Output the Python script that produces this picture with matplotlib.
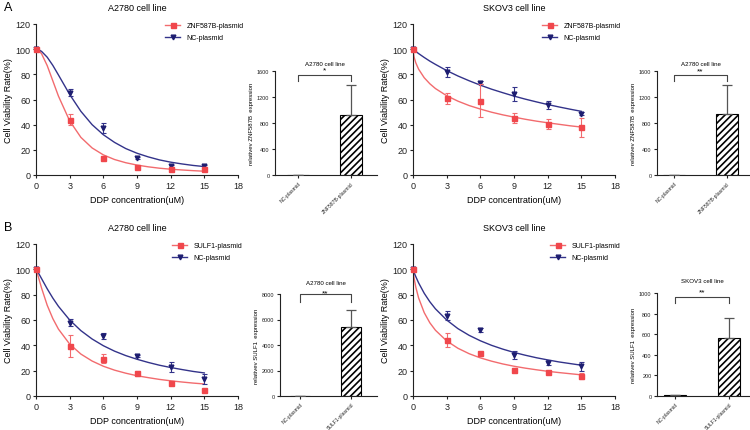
import matplotlib
matplotlib.use("Agg")
import matplotlib.pyplot as plt
from matplotlib.lines import Line2D

plt.rcParams['font.family'] = ['Liberation Sans', 'DejaVu Sans']
plt.rcParams['hatch.linewidth'] = 1.2

# ---------------- data ----------------
dose = [0, 3, 6, 9, 12, 15]
fit_x = [0, 0.1, 0.25, 0.5, 1, 1.5, 2, 3, 4, 5, 6, 7, 8, 9, 10, 11, 12, 13, 14, 15]

# A2780, ZNF587B
a_znf_mean = [100, 44, 13.5, 6.3, 4.8, 5.0]
a_znf_err = [0.5, 4.5, 1, 0.8, 0.8, 1]
a_nc_mean = [100, 65.5, 37.5, 13.2, 7.2, 6.8]
a_nc_err = [0.5, 2.5, 4, 0.8, 0.8, 1]
a_znf_fit = [100, 99.8, 99.0, 96.3, 86.9, 74.8, 62.7, 43.0, 29.9, 21.5, 16.0, 12.3,
             9.75, 7.9, 6.5, 5.4, 4.6, 4.0, 3.45, 3.0]
a_nc_fit = [100, 99.9, 99.5, 98.2, 93.6, 87.1, 79.5, 64.0, 50.6, 40.0, 32.0, 25.9,
            21.0, 17.3, 14.4, 12.0, 10.2, 8.8, 7.6, 6.7]

# SKOV3, ZNF587B
s_znf_mean = [100, 61, 59, 45, 40.5, 38]
s_znf_err = [0.5, 4.4, 13, 4, 4, 7.5]
s_nc_mean = [100, 81.5, 73.5, 64.5, 55.5, 48.7]
s_nc_err = [0.5, 4, 1.5, 5.8, 3.3, 1]
s_znf_fit = [100, 93.6, 89.1, 84.1, 77.3, 72.5, 68.7, 63.0, 58.7, 55.2, 52.4, 49.9,
             47.8, 46.0, 44.3, 42.8, 41.5, 40.3, 39.1, 38.1]
s_nc_fit = [100, 99.3, 98.2, 96.5, 93.4, 90.5, 87.9, 83.0, 78.7, 74.9, 71.4, 68.2,
            65.4, 62.7, 60.3, 58.1, 56.0, 54.1, 52.3, 50.6]

# A2780, SULF1
a_sulf_mean = [100, 39.5, 29.5, 18, 10.6, 5.0]
a_sulf_err = [0.5, 8.6, 3.5, 2, 0.8, 0.8]
a_nc2_mean = [100, 58, 47.5, 31.4, 23, 13.4]
a_nc2_err = [0.5, 2.5, 2.5, 1, 4, 4]
a_sulf_fit = [100, 97.4, 92.8, 85.1, 71.6, 61.1, 52.8, 41.0, 33.1, 27.6, 23.5, 20.4,
              18.0, 16.0, 14.5, 13.1, 12.0, 11.05, 10.2, 9.5]
a_nc2_fit = [100, 98.8, 96.6, 92.6, 84.6, 77.3, 70.8, 60.0, 51.6, 45.0, 39.7, 35.4,
             31.9, 29.0, 26.5, 24.3, 22.5, 20.9, 19.4, 18.2]

# SKOV3, SULF1
s_sulf_mean = [100, 44.3, 34.3, 20.8, 18.7, 16.0]
s_sulf_err = [0.5, 5.3, 0.8, 1.5, 0.8, 2.5]
s_nc2_mean = [100, 63.3, 52, 32.2, 26.4, 23.4]
s_nc2_err = [0.5, 3.5, 1.5, 3, 2, 3.7]
s_sulf_fit = [100, 92.9, 85.9, 77.4, 65.8, 57.8, 51.9, 43.5, 37.7, 33.4, 30.1, 27.5,
              25.3, 23.5, 22.0, 20.7, 19.5, 18.5, 17.6, 16.7]
s_nc2_fit = [100, 97.5, 94.2, 89.3, 81.1, 74.4, 68.8, 60.0, 53.2, 47.9, 43.6, 40.0,
             37.0, 34.4, 32.2, 30.2, 28.5, 26.9, 25.6, 24.3]

# expression bars
cats_znf = ['NC-plasmid', 'ZNF587B-plasmid']
cats_sulf = ['NC-plasmid', 'SULF1-plasmid']
znf_a2780_expr = [1, 930]
znf_a2780_err = [0, 460]
znf_skov3_expr = [1, 935]
znf_skov3_err = [0, 455]
sulf_a2780_expr = [1, 5400]
sulf_a2780_err = [0, 1380]
sulf_skov3_expr = [6, 565]
sulf_skov3_err = [0, 192]

xticks_dose = [0, 3, 6, 9, 12, 15, 18]
yticks_via = [0, 20, 40, 60, 80, 100, 120]

# ---------------- style ----------------
RED_M = '#F0474C'
RED_L = '#F26B6E'
BLUE_M = '#1D1D70'
BLUE_L = '#33338A'
W, H = 750, 431

fig = plt.figure(figsize=(7.5, 4.31), dpi=100)


def ax_px(l, t, r, b):
    return fig.add_axes([l / W, 1 - b / H, (r - l) / W, (b - t) / H])


def style(ax, fs):
    for s in ('top', 'right'):
        ax.spines[s].set_visible(False)
    for s in ('left', 'bottom'):
        ax.spines[s].set_linewidth(0.8)
        ax.spines[s].set_color('#222222')
    ax.tick_params(length=2.5, width=0.8, labelsize=fs, pad=1.5, colors='#222222')
    ax.set_facecolor('none')


def curve_panel(box, title, m1, e1, f1, m2, e2, f2, lab1, leg_xy):
    ax = ax_px(*box)
    style(ax, 6.5)
    ax.plot(fit_x, f1, color=RED_L, lw=1.0, zorder=2)
    ax.plot(fit_x, f2, color=BLUE_L, lw=1.0, zorder=2)
    ax.errorbar(dose, m2, yerr=e2, fmt='v', color=BLUE_M, ecolor=BLUE_L, ms=3.4,
                elinewidth=0.8, capsize=1.8, capthick=0.8, zorder=3, clip_on=False)
    ax.errorbar(dose, m1, yerr=e1, fmt='s', color=RED_M, ecolor=RED_L, ms=3.6,
                elinewidth=0.8, capsize=1.8, capthick=0.8, zorder=4, clip_on=False)
    ax.set_xlim(0, 18)
    ax.set_ylim(0, 120)
    ax.set_xticks(xticks_dose)
    ax.set_yticks(yticks_via)
    ax.set_xlabel('DDP concentration(uM)', fontsize=6.5)
    ax.set_ylabel('Cell Viability Rate(%)', fontsize=6.5)
    ax.xaxis.set_label_coords(0.5, -0.13)
    ax.yaxis.set_label_coords(-0.115, 0.5)
    ax.set_title(title, fontsize=6.5, pad=10)
    handles = [Line2D([], [], color=RED_L, lw=1.0, marker='s', ms=3.6,
                      markerfacecolor=RED_M, markeredgecolor=RED_M),
               Line2D([], [], color=BLUE_L, lw=1.0, marker='v', ms=3.4,
                      markerfacecolor=BLUE_M, markeredgecolor=BLUE_M)]
    ax.legend(handles, [lab1, 'NC-plasmid'], loc='upper left',
              bbox_to_anchor=(leg_xy[0] / W, 1 - leg_xy[1] / H),
              bbox_transform=fig.transFigure, frameon=False, fontsize=5,
              borderpad=0, borderaxespad=0, handlelength=2.2, handletextpad=0.9,
              labelspacing=0.75)
    return ax


def bar_panel(box, xlim, cats, vals, errs, ylim, yticks, ylab, title, star,
              br_top, br_low, star_y, title_y):
    ax = ax_px(*box)
    style(ax, 4)
    xs = list(range(len(cats)))
    ax.bar(xs, vals, width=0.41, color='white', edgecolor='black', hatch='/////',
           linewidth=0.8, zorder=2)
    ax.errorbar(xs, vals, yerr=[[0] * len(errs), errs], fmt='none', ecolor='#555555',
                elinewidth=0.9, capsize=3.5, capthick=0.9, zorder=3)
    ax.set_xlim(*xlim)
    ax.set_ylim(*ylim)
    ax.set_yticks(yticks)
    ax.set_xticks(xs)
    ax.set_xticklabels(cats, rotation=45, ha='right', rotation_mode='anchor',
                       fontsize=3.7)
    ax.set_ylabel(ylab, fontsize=4.3, labelpad=2)
    ax.plot([xs[0], xs[0], xs[1], xs[1]], [br_low, br_top, br_top, br_low],
            color='#444444', lw=0.8, clip_on=False)
    ax.text(0.5, star_y, star, ha='center', va='center', fontsize=6, clip_on=False)
    ax.text(0.5, title_y, title, ha='center', va='center', fontsize=4.4, clip_on=False)
    return ax


curve_panel((36, 25, 238, 176), 'A2780 cell line', a_znf_mean, a_znf_err, a_znf_fit,
            a_nc_mean, a_nc_err, a_nc_fit, 'ZNF587B-plasmid', (165, 23))
curve_panel((413, 25, 615, 176), 'SKOV3 cell line', s_znf_mean, s_znf_err, s_znf_fit,
            s_nc_mean, s_nc_err, s_nc_fit, 'ZNF587B-plasmid', (542, 23))
curve_panel((36, 245, 238, 397), 'A2780 cell line', a_sulf_mean, a_sulf_err, a_sulf_fit,
            a_nc2_mean, a_nc2_err, a_nc2_fit, 'SULF1-plasmid', (172, 243))
curve_panel((413, 245, 615, 397), 'SKOV3 cell line', s_sulf_mean, s_sulf_err, s_sulf_fit,
            s_nc2_mean, s_nc2_err, s_nc2_fit, 'SULF1-plasmid', (550, 243))

bar_panel((275, 72, 377, 176), (-0.434, 1.491), cats_znf, znf_a2780_expr, znf_a2780_err,
          (0, 1600), [0, 400, 800, 1200, 1600], 'relativev ZNF587B  expression',
          'A2780 cell line', '*', 1540, 1450, 1610, 1708)
bar_panel((657, 72, 750, 176), (-0.321, 1.434), cats_znf, znf_skov3_expr, znf_skov3_err,
          (0, 1600), [0, 400, 800, 1200, 1600], 'relativev ZNF587B  expression',
          'A2780 cell line', '**', 1540, 1450, 1605, 1718)
bar_panel((280, 295, 377, 397), (-0.392, 1.51), cats_sulf, sulf_a2780_expr, sulf_a2780_err,
          (0, 8000), [0, 2000, 4000, 6000, 8000], 'relativev SULF1  expression',
          'A2780 cell line', '**', 8000, 7370, 8050, 8940)
bar_panel((657, 294, 750, 397), (-0.333, 1.389), cats_sulf, sulf_skov3_expr, sulf_skov3_err,
          (0, 1000), [0, 200, 400, 600, 800, 1000], 'relativev SULF1  expression',
          'SKOV3 cell line', '**', 958, 903, 1012, 1119)

fig.text(4 / W, 1 - 8 / H, 'A', fontsize=9, va='center', ha='left')
fig.text(4 / W, 1 - 228 / H, 'B', fontsize=9, va='center', ha='left')

fig.savefig('out.png', dpi=100)
